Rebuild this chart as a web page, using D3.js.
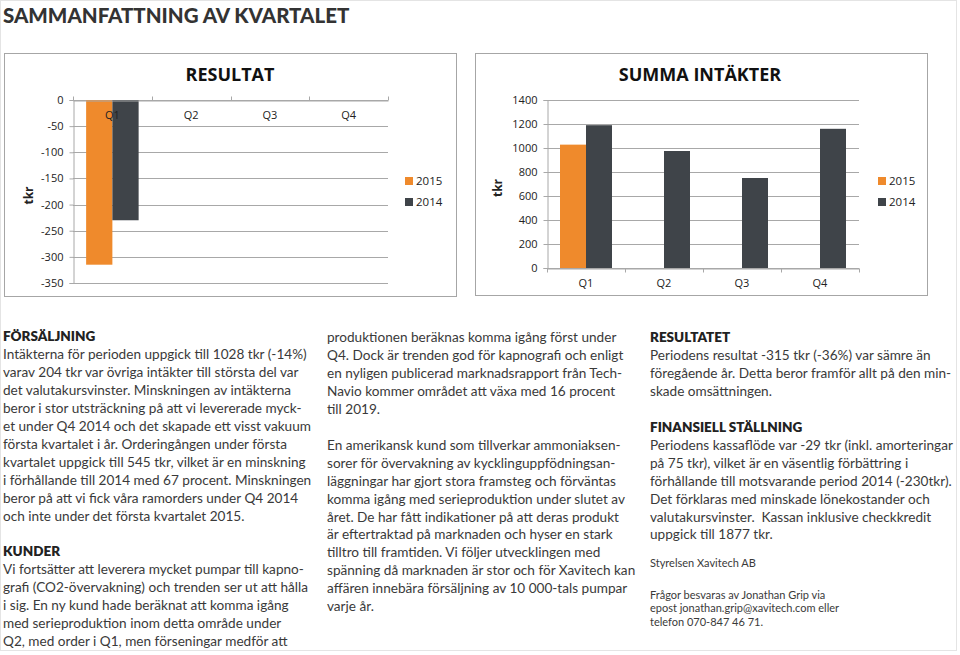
<!DOCTYPE html>
<html><head><meta charset="utf-8">
<script src="https://cdn.jsdelivr.net/npm/d3@7"></script>
<style>
html,body{margin:0;padding:0;background:#fff;}
</style></head>
<body><svg id="page" width="960" height="655"></svg>
<script>
// ---- data ----
const quarters = ["Q1","Q2","Q3","Q4"];
const seriesNames = ["2015","2014"];
const resultat2015 = [-315, null, null, null];
const resultat2014 = [-230, null, null, null];
const intakter2015 = [1028, null, null, null];
const intakter2014 = [1190, 975, 750, 1160];
const resultatTicks = [0,-50,-100,-150,-200,-250,-300,-350];
const intakterTicks = [0,200,400,600,800,1000,1200,1400];

const colOrange = "#ef8a2c", colDark = "#3f4449";
const chartFont = "'Open Sans', sans-serif";
const bodyFont = "Lato, 'Noto Sans', sans-serif";
const svg = d3.select("#page");

// page frame
svg.append("rect").attr("x",0.5).attr("y",0.5).attr("width",956).attr("height",650)
  .attr("fill","none").attr("stroke","#e4e4e4");
svg.append("text").attr("x",3).attr("y",23).attr("font-family",bodyFont)
  .attr("font-weight",900).attr("font-size",20.5).attr("fill","#333")
  .text("SAMMANFATTNING AV KVARTALET");

function chart(opt){
  const g = svg.append("g").attr("font-family",chartFont);
  g.append("rect").attr("x",opt.box[0]+0.5).attr("y",opt.box[1]+0.5)
    .attr("width",opt.box[2]).attr("height",opt.box[3]).attr("fill","#fff").attr("stroke","#a6a6a6");
  g.append("text").attr("x",opt.titleX).attr("y",opt.box[1]+28).attr("text-anchor","middle")
    .attr("font-weight",700).attr("font-size",18).attr("fill","#111").text(opt.title);
  const x = d3.scaleBand().domain(quarters).range([opt.px0,opt.px1]);
  const y = d3.scaleLinear().domain(opt.domain).range([opt.py0,opt.py1]);
  // gridlines
  g.append("g").selectAll("line").data(opt.ticks).join("line")
    .attr("x1",opt.px0).attr("x2",opt.px1).attr("y1",d=>Math.round(y(d))+0.5).attr("y2",d=>Math.round(y(d))+0.5)
    .attr("stroke","#a8a8a8");
  // y axis
  const ya = g.append("g").attr("transform",`translate(${opt.px0+0.5},0)`)
    .call(d3.axisLeft(y).tickValues(opt.ticks).tickSize(4).tickPadding(6).tickFormat(d=>String(d)));
  ya.select(".domain").attr("stroke","#a8a8a8");
  ya.selectAll(".tick line").attr("stroke","#a8a8a8");
  ya.selectAll("text").attr("font-size",11).attr("fill","#222").attr("font-family",chartFont);
  // bars
  const inner = d3.scaleBand().domain(seriesNames).range([0,x.bandwidth()]).paddingOuter(0.5).paddingInner(0);
  const series = [{name:"2015",vals:opt.s2015,c:colOrange},{name:"2014",vals:opt.s2014,c:colDark}];
  series.forEach(s=>{
    g.append("g").selectAll("rect").data(quarters.map((q,i)=>({q,v:s.vals[i]})).filter(d=>d.v!=null)).join("rect")
      .attr("x",d=>x(d.q)+inner(s.name)).attr("width",inner.bandwidth())
      .attr("y",d=>Math.min(y(0),y(d.v))).attr("height",d=>Math.abs(y(d.v)-y(0)))
      .attr("fill",s.c);
  });
  // x axis at zero
  const y0 = Math.round(y(0))+0.5;
  const xa = g.append("g").attr("transform",`translate(0,${y0})`)
    .call((opt.top? d3.axisTop(x) : d3.axisBottom(x)).tickSizeInner(0).tickSizeOuter(0).tickPadding(0));
  xa.select(".domain").attr("stroke","#a8a8a8");
  xa.selectAll(".tick line").remove();
  xa.selectAll("text").remove();
  // boundary ticks
  g.append("g").selectAll("line").data(d3.range(5)).join("line")
    .attr("x1",i=>Math.round(opt.px0+i*x.step())+0.5).attr("x2",i=>Math.round(opt.px0+i*x.step())+0.5)
    .attr("y1",y0).attr("y2",y0+(opt.top?-4:4)).attr("stroke","#a8a8a8");
  // category labels
  g.append("g").selectAll("text").data(quarters).join("text")
    .attr("x",d=>x(d)+x.bandwidth()/2).attr("y",opt.catY).attr("text-anchor","middle")
    .attr("font-size",11).attr("fill","#222").text(d=>d);
  // axis title
  g.append("text").attr("transform",`translate(${opt.tkrX},${(opt.py0+opt.py1)/2+4}) rotate(-90)`)
    .attr("text-anchor","middle").attr("font-weight",700).attr("font-size",12).attr("fill","#222").text("tkr");
  // legend
  series.forEach((s,i)=>{
    g.append("rect").attr("x",opt.legX).attr("y",177+i*21).attr("width",8).attr("height",8).attr("fill",s.c);
    g.append("text").attr("x",opt.legX+11).attr("y",185+i*21).attr("font-size",11.5).attr("fill","#222").text(s.name);
  });
}

chart({box:[4,53,452,243], title:"RESULTAT", titleX:230, px0:73, px1:388, py0:100, py1:283,
  domain:[0,-350], ticks:resultatTicks, s2015:resultat2015, s2014:resultat2014, top:true, catY:119,
  tkrX:33, legX:405});
chart({box:[475,53,452,242], title:"SUMMA INTÄKTER", titleX:700, px0:547, px1:859, py0:268, py1:100,
  domain:[0,1400], ticks:intakterTicks, s2015:intakter2015, s2014:intakter2014, top:false, catY:287,
  tkrX:502, legX:878});

// ---- text columns ----
const col1 = [
 ["h","FÖRSÄLJNING"],
 ["t","Intäkterna för perioden uppgick till 1028 tkr (-14%)"],
 ["t","varav 204 tkr var övriga intäkter till största del var"],
 ["t","det valutakursvinster. Minskningen av intäkterna"],
 ["t","beror i stor utsträckning på att vi levererade myck-"],
 ["t","et under Q4 2014 och det skapade ett visst vakuum"],
 ["t","första kvartalet i år. Orderingången under första"],
 ["t","kvartalet uppgick till 545 tkr, vilket är en minskning"],
 ["t","i förhållande till 2014 med 67 procent. Minskningen"],
 ["t","beror på att vi fick våra ramorders under Q4 2014"],
 ["t","och inte under det första kvartalet 2015."],
 ["b",""],
 ["h","KUNDER"],
 ["t","Vi fortsätter att leverera mycket pumpar till kapno-"],
 ["t","grafi (CO2-övervakning) och trenden ser ut att hålla"],
 ["t","i sig. En ny kund hade beräknat att komma igång"],
 ["t","med serieproduktion inom detta område under"],
 ["t","Q2, med order i Q1, men förseningar medför att"]
];
const col2 = [
 ["t","produktionen beräknas komma igång först under"],
 ["t","Q4. Dock är trenden god för kapnografi och enligt"],
 ["t","en nyligen publicerad marknadsrapport från Tech-"],
 ["t","Navio kommer området att växa med 16 procent"],
 ["t","till 2019."],
 ["b",""],
 ["t","En amerikansk kund som tillverkar ammoniaksen-"],
 ["t","sorer för övervakning av kycklinguppfödningsan-"],
 ["t","läggningar har gjort stora framsteg och förväntas"],
 ["t","komma igång med serieproduktion under slutet av"],
 ["t","året. De har fått indikationer på att deras produkt"],
 ["t","är eftertraktad på marknaden och hyser en stark"],
 ["t","tilltro till framtiden. Vi följer utvecklingen med"],
 ["t","spänning då marknaden är stor och för Xavitech kan"],
 ["t","affären innebära försäljning av 10 000-tals pumpar"],
 ["t","varje år."]
];
const col3 = [
 ["h","RESULTATET"],
 ["t","Periodens resultat -315 tkr (-36%) var sämre än"],
 ["t","föregående år. Detta beror framför allt på den min-"],
 ["t","skade omsättningen."],
 ["b",""],
 ["h","FINANSIELL STÄLLNING"],
 ["t","Periodens kassaflöde var -29 tkr (inkl. amorteringar"],
 ["t","på 75 tkr), vilket är en väsentlig förbättring i"],
 ["t","förhållande till motsvarande period 2014 (-230tkr)."],
 ["t","Det förklaras med minskade lönekostander och"],
 ["t","valutakursvinster.  Kassan inklusive checkkredit"],
 ["t","uppgick till 1877 tkr."]
];
const col3small = [
 [563,"Styrelsen Xavitech AB"],
 [595,"Frågor besvaras av Jonathan Grip via"],
 [608,"epost jonathan.grip@xavitech.com eller"],
 [622,"telefon 070-847 46 71."]
];

function column(lines, x, yStart){
  const g = svg.append("g").attr("font-family",bodyFont);
  lines.forEach((l,i)=>{
    if(l[0]==="b") return;
    g.append("text").attr("x",x).attr("y",yStart+i*17.95)
      .attr("font-size",l[0]==="h"?13.5:13.6).attr("font-weight",l[0]==="h"?800:400)
      .attr("fill",l[0]==="h"?"#222":"#3a3a3a")
      .style("white-space","pre").text(l[1]);
  });
}
column(col1, 3, 341);
column(col2, 327, 342);
column(col3, 650, 342);
const gs = svg.append("g").attr("font-family",bodyFont).attr("fill","#3a3a3a");
col3small.forEach(d=>gs.append("text").attr("x",650).attr("y",d[0]+4).attr("font-size",11).text(d[1]));
</script></body></html>
